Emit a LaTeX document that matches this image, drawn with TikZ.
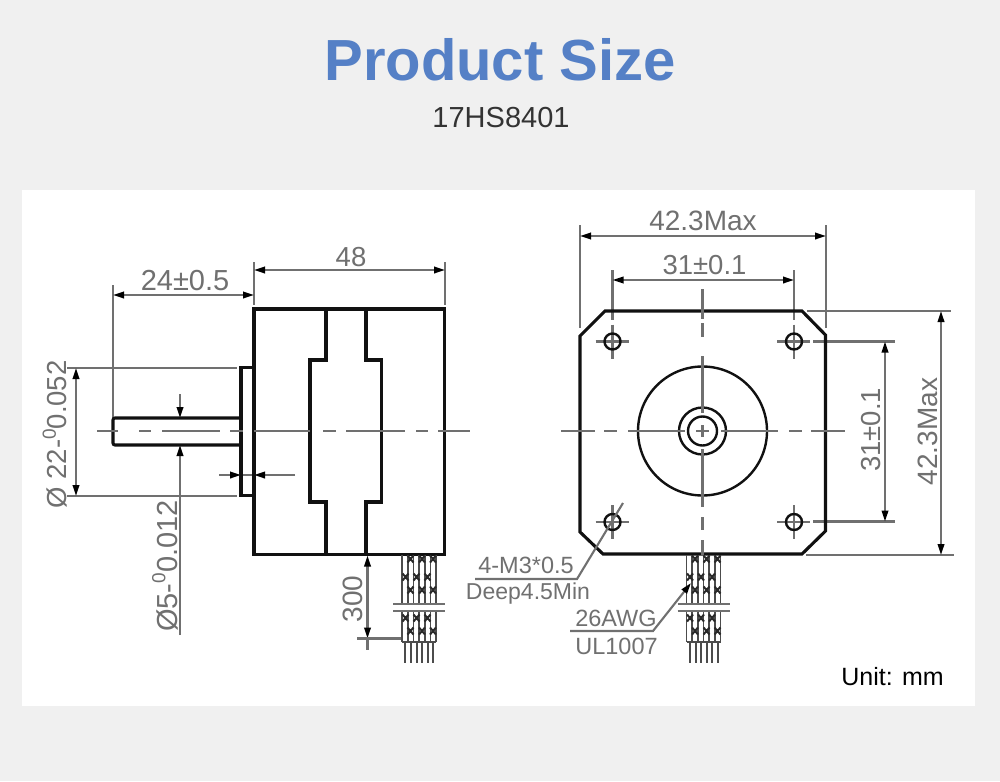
\documentclass[tikz,border=0pt]{standalone}
\usepackage{fontspec}
\setmainfont{Liberation Sans}
\usetikzlibrary{arrows.meta}
\definecolor{pagebg}{HTML}{F0F0F0}
\definecolor{titleblue}{HTML}{5580C6}
\definecolor{dimgrey}{HTML}{707070}
\definecolor{inkblack}{HTML}{111111}
\tikzset{
  blacktip/.tip={Triangle[length=11pt,width=6.5pt,color=black]},
  body/.style={draw=inkblack,line width=3.1pt,line join=miter},
  thin body/.style={draw=inkblack,line width=2.4pt},
  center line/.style={draw=dimgrey,line width=2.9pt},
  dim line/.style={draw=dimgrey,line width=2.1pt},
  dim arrow/.style={dim line,blacktip-blacktip},
  end arrow/.style={dim line,-blacktip},
  dim text/.style={text=dimgrey,font=\fontsize{27.5}{27}\selectfont,inner sep=0pt},
  side text/.style={dim text,rotate=90},
  wire line/.style={draw=inkblack!75,line width=1.7pt},
  cross mark/.style={draw=inkblack!90,line width=2pt}
}
\newcommand{\supo}{\raisebox{0.40em}{\fontsize{19}{19}\selectfont 0}}
\newcommand{\wirebundle}[1]{%
  \begin{scope}[xshift=#1pt]
    \foreach \wx in {402,407.7,413.4,419,424.7,430.4,436}{
      \draw[wire line] (\wx,555) -- (\wx,604);
      \draw[wire line] (\wx,611) -- (\wx,642);
    }
    \draw[wire line] (402,642) -- (436,642);
    \foreach \wx in {405,411,416.5,422,427.5,433}{
      \draw[wire line,line width=2pt] (\wx,642) -- (\wx,663);
    }
    \foreach \wx/\wy in {410.5/559,422/559,433/559,405.5/577,416.5/577,427.5/577,410.5/590,422/590,433/590,405.5/618,416.5/618,427.5/618,410.5/631,422/631,433/631}{
      \draw[cross mark] (\wx-3,\wy-3.5) -- (\wx+3,\wy+3.5) (\wx-3,\wy+3.5) -- (\wx+3,\wy-3.5);
    }
    \draw[dim line,line width=2.4pt] (393,604) -- (445,604) (393,611) -- (445,611);
  \end{scope}}
\begin{document}
\begin{tikzpicture}[x=1pt,y=-1pt]
\useasboundingbox (0,0) rectangle (1000,781);
\fill[pagebg] (0,0) rectangle (1000,781);
\fill[white] (22,190) rectangle (975,706);

\node[text=titleblue,font=\bfseries\fontsize{58}{58}\selectfont,inner sep=0pt] (title) at (500,60) {Product Size};
\node[text=black!80,font=\fontsize{29}{29}\selectfont,inner sep=0pt] (subtitle) at (501,118) {17HS8401};

% ---------- side view ----------
\draw[dim line] (113,285) -- (113,418);
\draw[dim line] (254,262) -- (254,305) (445,262) -- (445,305);
\draw[dim line] (67,368) -- (237,368) (67,496) -- (237,496);
\draw[dim arrow] (113,295) -- (254,295);
\draw[dim arrow] (254,270) -- (445,270);
\draw[dim arrow] (76,368) -- (76,496);
\draw[end arrow] (180,394) -- (180,418);
\draw[end arrow] (180,635) -- (180,445);
\draw[end arrow] (219,475) -- (241,475);
\draw[end arrow] (295,475) -- (254,475);
\draw[dim line] (241,475) -- (254,475);

\draw[body,rounded corners=2pt] (241,418) -- (113,418) -- (113,445) -- (241,445);
\draw[body] (254,367.5) -- (241,367.5) -- (241,495.5) -- (254,495.5);
\draw[body] (254,309) rectangle (444.5,554.5);
\draw[body] (326,309) -- (326,360) -- (310,360) -- (310,502) -- (326,502) -- (326,554.5);
\draw[body] (366,309) -- (366,360) -- (381.5,360) -- (381.5,502) -- (366,502) -- (366,554.5);

\foreach \xa/\xb in {97/118,139/151,162/220,230/243,254/310,323/336,346/405,416/428,438/470}{
  \draw[center line] (\xa,431) -- (\xb,431);
}
\draw[dim arrow] (367.5,555.5) -- (367.5,638.5);
\draw[dim line] (367.5,638) -- (367.5,650);
\draw[dim line] (357,638.5) -- (401,638.5);
\wirebundle{0}

\node[dim text,font=\fontsize{29}{29}\selectfont] (lenshaft) at (185,281) {24±0.5};
\node[dim text] (lenbody) at (351,257) {48};
\node[side text] (diaboss) at (55,434.5) {Ø 22-\supo0.052};
\node[side text,font=\fontsize{29}{29}\selectfont] (diashaft) at (165,566) {Ø5-\supo0.012};
\node[side text,font=\fontsize{28}{28}\selectfont] (lenlead) at (353,599) {300};

% ---------- front view ----------
\draw[dim line] (580,225) -- (580,328) (826,225) -- (826,328);
\draw[dim arrow] (580,236) -- (826,236);
\draw[dim line] (612.5,270) -- (612.5,320) (794,270) -- (794,320);
\draw[dim arrow] (612.5,280) -- (794,280);
\draw[dim line] (807,311) -- (951,311) (806,555) -- (954,555);
\draw[dim arrow] (941,311) -- (941,555);
\draw[dim line] (813,341.5) -- (895,341.5) (813,521.5) -- (895,521.5);
\draw[dim arrow] (885,341.5) -- (885,521.5);

\draw[body] (605,311) -- (802,311) -- (825.5,335) -- (825.5,531) -- (802,554) -- (603,554) -- (580,532) -- (580,336) -- cycle;

\foreach \cx/\cy in {612.5/341.5,794/341.5,612.5/522,794/522}{
  \draw[dim line] (\cx-17,\cy) -- (\cx+16,\cy) (\cx,\cy-17) -- (\cx,\cy+17);
  \draw[thin body] (\cx,\cy) circle (8pt);
}
\draw[thin body] (702.5,431) circle (64.5pt);
\draw[thin body] (702.5,431) circle (23.5pt);
\draw[thin body] (702.5,431) circle (14.5pt);

\foreach \xa/\xb in {561/595,604/617,628/685,696/709,721/778,789/802,811/845}{
  \draw[center line] (\xa,431) -- (\xb,431);
}
\draw[center line] (702.5,425) -- (702.5,437);
\foreach \ya/\yb in {289/319,323/337,356/413,449/507,517/530,540/555}{
  \draw[dim line,line width=2.6pt] (702.5,\ya) -- (702.5,\yb);
}
\wirebundle{284.5}

\draw[dim line] (623,503) -- (577,579) -- (475,579);
\draw[end arrow] (570,631) -- (653,631) -- (691,583);

\node[dim text,font=\fontsize{23.5}{24}\selectfont] (thread) at (526,565) {4-M3*0.5};
\node[dim text,font=\fontsize{23}{24}\selectfont] (depth) at (528,594) {Deep4.5Min};
\node[dim text,font=\fontsize{23.5}{24}\selectfont] (gauge) at (616,618) {26AWG};
\node[dim text,font=\fontsize{23.5}{24}\selectfont] (wire) at (616.5,646) {UL1007};
\node[dim text,font=\fontsize{28}{28}\selectfont] (widthmax) at (703,221) {42.3Max};
\node[dim text] (widthpitch) at (704.5,265) {31±0.1};
\node[side text,font=\fontsize{28}{28}\selectfont] (heightmax) at (928,431.5) {42.3Max};
\node[side text] (heightpitch) at (871,430) {31±0.1};
\node[text=black,font=\fontsize{25}{25}\selectfont,inner sep=0pt] (unit) at (892.5,677) {Unit: mm};
\end{tikzpicture}
\end{document}
